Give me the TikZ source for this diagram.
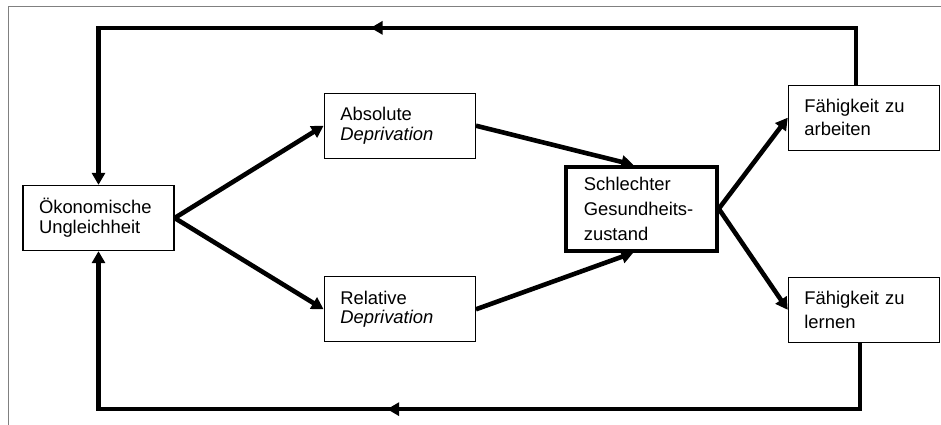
\documentclass[tikz,border=0pt]{standalone}
\usepackage{fontspec}
\setmainfont{Liberation Sans}
\usetikzlibrary{arrows.meta}
\usetikzlibrary{decorations.markings}
\usetikzlibrary{positioning}

\tikzset{midarrow/.style={decoration={markings,mark=at position #1 with {\arrow{>}}},postaction={decorate}}}

\begin{document}
\begin{tikzpicture}[->,>={Triangle[length=12pt,width=13pt]},line width=4.6pt]
\tikzstyle{blk}=[draw,line width=1.3pt,align=left,text width=119pt,inner xsep=16pt,minimum height=65pt,
	font=\fontsize{18.4}{19.8}\selectfont]
\tikzstyle{res}=[blk,font=\fontsize{18.4}{23.4}\selectfont]
\tikzstyle{hub}=[blk,line width=3.8pt,text width=115pt,inner xsep=18pt,minimum height=84pt,
	font=\fontsize{18.4}{25}\selectfont]
\useasboundingbox (0,0) rectangle (941pt,-425pt);
\draw[-,gray,line width=0.9pt] (8pt,-425pt) -- (8pt,-6pt) -- (941pt,-6pt);

\node[blk]	(oek)	at (98.5pt,-218pt)						{Ökonomische\\Ungleichheit};
\node[blk]	(abs)	[above right=26pt and 149pt of oek]		{Absolute\\\textit{Deprivation}};
\node[blk]	(rel)	[below right=25pt and 149pt of oek]		{Relative\\\textit{Deprivation}};
\node[hub]	(schl)	[below right=6pt and 88pt of abs]		{Schlechter\\Gesundheits-\\zustand};
\node[res]	(arb)	[above right=14pt and 69pt of schl]		{Fähigkeit zu\\arbeiten};
\node[res]	(lern)	[below right=24pt and 69pt of schl]		{Fähigkeit zu\\lernen};
\coordinate[above=157pt of oek.north]	(ttop);
\coordinate[below=158pt of oek.south]	(tbot);

\path(oek.east)		edge							(abs.west)
	 (oek.east)		edge							(rel.west)
	 (abs.east)		edge							([xshift=-8pt]schl.north)
	 (rel.east)		edge							([xshift=-8pt]schl.south)
	 (schl.east)	edge							(arb.west)
	 (schl.east)	edge							(lern.west);

% feedback loops
\draw[midarrow=542pt] ([xshift=-8pt]arb.north) |- (ttop) -- (oek.north);
\draw[midarrow=539pt] ([xshift=-4pt]lern.south) |- (tbot) -- (oek.south);
\end{tikzpicture}
\end{document}
